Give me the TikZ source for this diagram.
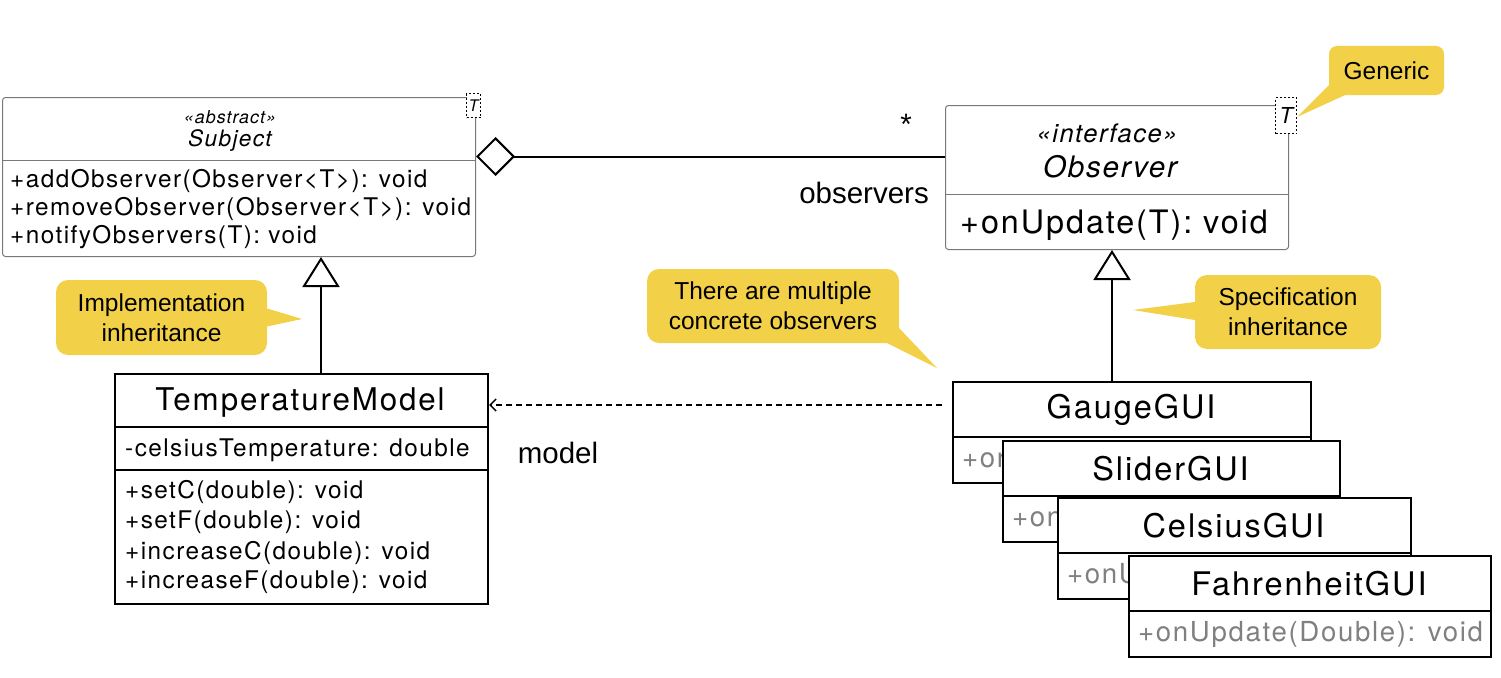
\documentclass[tikz,border=0pt]{standalone}
\usepackage{fontspec}
\setmainfont{Liberation Sans}
\newfontfamily\umlfont[LetterSpace=6]{TeX Gyre Heros}
\usetikzlibrary{arrows.meta}
\definecolor{noteyellow}{RGB}{242,208,72}
\definecolor{umlgray}{RGB}{120,120,120}
\definecolor{opgray}{RGB}{128,128,128}
\newcommand*{\fs}[2]{\fontsize{#1}{#2}\selectfont}
\tikzset{
    lightbox/.style={draw=umlgray, line width=1pt, rounded corners=3pt, fill=white, anchor=north west, inner sep=0pt},
    boldbox/.style={draw=black, line width=2pt, fill=white, anchor=north west, inner sep=0pt},
    member/.style={anchor=west, inner sep=0pt, font=\umlfont\fs{24.3}{28}},
    classname/.style={inner sep=0pt, font=\umlfont\fs{32.5}{34}},
    tparam/.style={draw, fill=white, dash pattern=on 2pt off 2pt, line width=1.2pt, inner sep=0pt, anchor=north west},
    note/.style={fill=noteyellow, rounded corners=12pt, align=center, inner sep=0pt, font=\fs{24.5}{30}},
    rolename/.style={inner sep=0pt, font=\fs{29.5}{32}},
    inherit/.style={line width=2pt, -{Triangle[open, length=30pt, width=37pt]}},
    aggr/.style={line width=2pt, {Diamond[open, length=39pt, width=39pt]}-},
    dep/.style={line width=1.5pt, dash pattern=on 6pt off 4pt, -{Straight Barb[length=6pt, width=12pt]}},
}
\begin{document}
\begin{tikzpicture}[x=1pt,y=-1pt]
    \useasboundingbox (0,0) rectangle (1501,677);
    % abstract subject
    \node[lightbox, minimum width=473pt, minimum height=159pt] (subject) at (2,97) {};
    \draw[umlgray, line width=1pt] (subject.west |- 0,160) -- (subject.east |- 0,160);
    \node[font=\umlfont\itshape\fs{17.8}{20}] (subjstereo) at (230,117) {«abstract»};
    \node[font=\umlfont\itshape\fs{22.6}{25}] (subjname) at (230,141) {Subject};
    \node[member] (subjop1) at (10,181) {+addObserver(Observer<T>): void};
    \node[member] (subjop2) at (10,209) {+removeObserver(Observer<T>): void};
    \node[member] (subjop3) at (10,237) {+notifyObservers(T): void};
    \node[tparam, minimum width=14pt, minimum height=24pt, font=\umlfont\itshape\fs{16}{16}] (subjT) at (466,93) {T};

    % observer interface
    \node[lightbox, minimum width=343pt, minimum height=144pt] (observer) at (945,105) {};
    \draw[umlgray, line width=1pt] (observer.west |- 0,194) -- (observer.east |- 0,194);
    \node[font=\umlfont\itshape\fs{25.5}{28}] (obsstereo) at (1107,133) {«interface»};
    \node[font=\umlfont\itshape\fs{29.6}{32}] (obsname) at (1110,167) {Observer};
    \node[member, font=\umlfont\fs{32.3}{34}] (obsop) at (960,225) {+onUpdate(T): void};
    \node[tparam, minimum width=21pt, minimum height=36pt, font=\umlfont\itshape\fs{22}{22}] (obsT) at (1275,97) {T};

    \draw[aggr] ([yshift=20.5pt]subject.east) -- ([yshift=20.5pt]subject.east -| observer.west);
    \node[rolename] (mult) at (906,124) {*};
    \node[rolename] (obsrole) at (864,193) {observers};

    % concrete subject
    \node[boldbox, minimum width=373pt, minimum height=230pt] (model) at (114,373) {};
    \draw[line width=2pt] (model.west |- 0,427) -- (model.east |- 0,427);
    \draw[line width=2pt] (model.west |- 0,470) -- (model.east |- 0,470);
    \node[classname, font=\umlfont\fs{31.3}{34}] (modelname) at (300,402) {TemperatureModel};
    \node[member] (modelattr) at (125,450) {-celsiusTemperature: double};
    \node[member] (modelop1) at (125,492) {+setC(double): void};
    \node[member] (modelop2) at (125,522) {+setF(double): void};
    \node[member] (modelop3) at (125,553) {+increaseC(double): void};
    \node[member] (modelop4) at (125,582) {+increaseF(double): void};
    \draw[inherit] (model.north -| 321,0) -- (subject.south -| 321,0);

    % concrete observers, stacked
    \foreach \cls/\x/\y/\w in {GaugeGUI/952/381/358, SliderGUI/1002/440/337,
                               CelsiusGUI/1057/497/353, FahrenheitGUI/1128/555/362} {
        \node[boldbox, minimum width=\w pt, minimum height=101pt] (\cls) at (\x,\y) {};
        \draw[line width=2pt] (\x,\y+56) -- (\x+\w,\y+56);
        \node[classname] (\cls name) at (\x+\w/2,\y+29) {\cls};
        \node[member, font=\umlfont\fs{27.6}{30}, text=opgray] (\cls op) at (\x+10,\y+79) {+onUpdate(Double): void};
    }
    \draw[inherit] (GaugeGUI.north -| 1112,0) -- (observer.south -| 1112,0);
    \coordinate (depstart) at (942,405);
    \draw[dep] (depstart) -- (model.east |- depstart);
    \node[rolename] (modelrole) at (558,453) {model};

    % notes
    \node[note, minimum width=211pt, minimum height=75pt] (implnote) at (161.5,317.5) {Implementation\\inheritance};
    \fill[noteyellow] ([yshift=9pt]implnote.east) -- (302,319) -- ([yshift=-9pt]implnote.east) -- cycle;
    \node[note, minimum width=252pt, minimum height=74pt] (multinote) at (773,306) {There are multiple\\concrete observers};
    \fill[noteyellow] ([yshift=15pt]multinote.south east) -- (937,368) -- ([xshift=-12pt]multinote.south east) -- cycle;
    \node[note, minimum width=186pt, minimum height=74pt] (specnote) at (1288,312) {Specification\\inheritance};
    \fill[noteyellow] ([yshift=10pt]specnote.west) -- (1133,310) -- ([yshift=-8pt]specnote.west) -- cycle;
    \node[note, rounded corners=8pt, minimum width=115pt, minimum height=49pt] (genericnote) at (1386.5,70.5) {Generic};
    \fill[noteyellow] ([yshift=10pt]genericnote.south west) -- (1297,117) -- ([xshift=16pt]genericnote.south west) -- cycle;
\end{tikzpicture}
\end{document}
